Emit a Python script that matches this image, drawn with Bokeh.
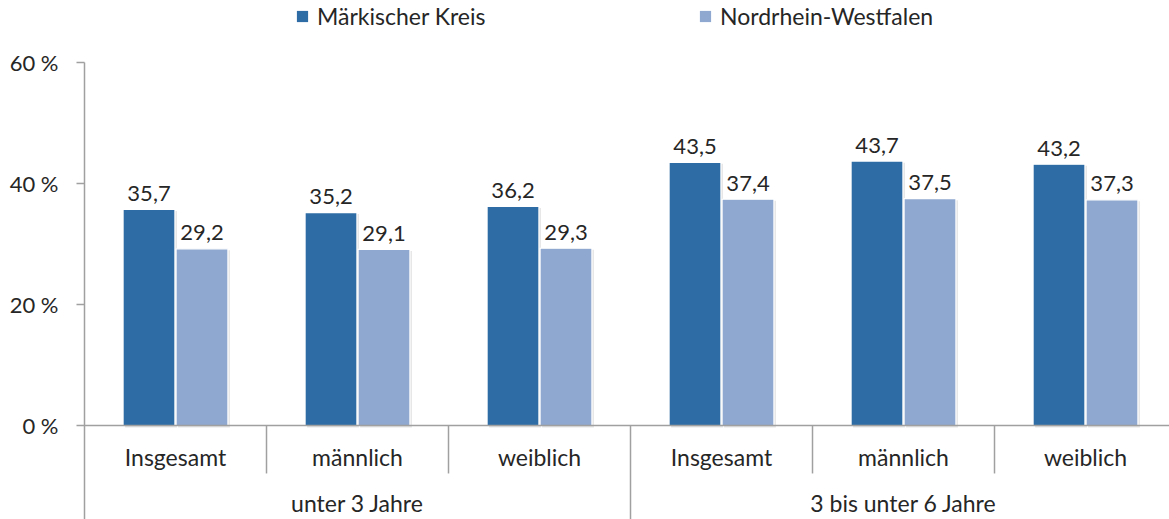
from bokeh.plotting import figure
from bokeh.models import Range1d, FixedTicker, ColumnDataSource, Legend, LegendItem, Span
from bokeh.core.properties import value
from bokeh.embed import file_html
from bokeh.resources import INLINE

# ---- data ----
subcategories = ["Insgesamt", "männlich", "weiblich", "Insgesamt", "männlich", "weiblich"]
groups = ["unter 3 Jahre", "3 bis unter 6 Jahre"]
series_names = ["Märkischer Kreis", "Nordrhein-Westfalen"]
mk_values = [35.7, 35.2, 36.2, 43.5, 43.7, 43.2]
nrw_values = [29.2, 29.1, 29.3, 37.4, 37.5, 37.3]
y_ticks = [0, 20, 40, 60]
y_tick_labels = ["0 %", "20 %", "40 %", "60 %"]

FONT = "Lato"
TXT = "#262626"
DARK = "#2E6CA5"
LIGHT = "#8EA8CF"
AXIS = "#A0A0A0"

def fmt(v):
    return f"{v:.1f}".replace(".", ",")

n = len(subcategories)
centers = [i + 0.5 for i in range(n)]
off = 0.1456
bw = 0.285

mk_x = [c - off for c in centers]
nrw_x = [c + off for c in centers]

y_top = 70.25
y_bot = -15.54
x_end = 5.9615

p = figure(width=1169, height=519, output_backend="svg", toolbar_location=None,
           x_range=Range1d(0, x_end), y_range=Range1d(y_bot, y_top),
           x_axis_location=None, min_border_left=84, min_border_right=0,
           min_border_top=0, min_border_bottom=0)
p.outline_line_color = None
p.grid.grid_line_color = None
p.background_fill_color = "white"

# shadows
sh = 0.011
p.vbar(x=[x + sh for x in mk_x], top=[v - 0.25 for v in mk_values], bottom=-0.35, width=bw,
       fill_color="black", fill_alpha=0.10, line_color=None)
p.vbar(x=[x + sh for x in nrw_x], top=[v - 0.25 for v in nrw_values], bottom=-0.35, width=bw,
       fill_color="black", fill_alpha=0.10, line_color=None)

src_mk = ColumnDataSource(dict(x=mk_x, top=mk_values, lab=[fmt(v) for v in mk_values]))
src_nrw = ColumnDataSource(dict(x=nrw_x, top=nrw_values, lab=[fmt(v) for v in nrw_values]))

r_mk = p.vbar(x="x", top="top", width=bw, bottom=0, source=src_mk,
              fill_color=DARK, line_color="white", line_width=1.2)
r_nrw = p.vbar(x="x", top="top", width=bw, bottom=0, source=src_nrw,
               fill_color=LIGHT, line_color="white", line_width=1.2)

# legend swatches (no outline, so the square is the full size)
lg_mk = p.vbar(x=[0], top=[0], width=0, fill_color=DARK, line_color=None, visible=False)
lg_nrw = p.vbar(x=[0], top=[0], width=0, fill_color=LIGHT, line_color=None, visible=False)

# value labels
for src in (src_mk, src_nrw):
    p.text(x="x", y="top", text="lab", source=src, text_font=value(FONT),
           text_font_size="22px", text_color=TXT, text_align="center",
           text_baseline="middle", y_offset=-16)

# x axis line
p.add_layout(Span(location=0, dimension="width", line_color=AXIS, line_width=1.5))

# separators
sub_sep = [i for i in range(1, n) if i % 3 != 0]
grp_sep = [i for i in range(1, n) if i % 3 == 0]
p.segment(x0=sub_sep, y0=0, x1=sub_sep, y1=-7.93, line_color=AXIS, line_width=1.5)
p.segment(x0=grp_sep, y0=0, x1=grp_sep, y1=y_bot, line_color=AXIS, line_width=1.5)

# category labels
p.text(x=centers, y=0, text=subcategories, text_font=value(FONT), text_font_size="23px",
       text_color=TXT, text_align="center", text_baseline="middle", y_offset=32)
grp_x = [1.5, 4.5]
p.text(x=grp_x, y=0, text=groups, text_font=value(FONT), text_font_size="23px",
       text_color=TXT, text_align="center", text_baseline="middle", y_offset=78)

# y axis
ya = p.yaxis[0]
ya.ticker = FixedTicker(ticks=y_ticks)
ya.major_label_overrides = {t: l for t, l in zip(y_ticks, y_tick_labels)}
ya.bounds = (y_bot, 60)
ya.axis_line_color = AXIS
ya.axis_line_width = 1.5
ya.major_tick_line_color = AXIS
ya.major_tick_line_width = 1.5
ya.major_tick_out = 8
ya.major_tick_in = 0
ya.minor_tick_line_color = None
ya.major_label_standoff = 18
ya.major_label_text_font = FONT
ya.major_label_text_font_size = "22px"
ya.major_label_text_color = TXT

# legends
for r, name, loc in ((lg_mk, series_names[0], (211, 489)), (lg_nrw, series_names[1], (614, 489))):
    lg = Legend(items=[LegendItem(label=name, renderers=[r])], location=loc,
                orientation="horizontal", padding=0, margin=0, spacing=0,
                border_line_color=None, background_fill_alpha=0,
                glyph_width=14, glyph_height=14, label_standoff=8, label_height=20,
                label_text_font=FONT, label_text_font_size="23px", label_text_color=TXT)
    p.add_layout(lg)

open("out.html", "w").write(file_html(p, INLINE))
